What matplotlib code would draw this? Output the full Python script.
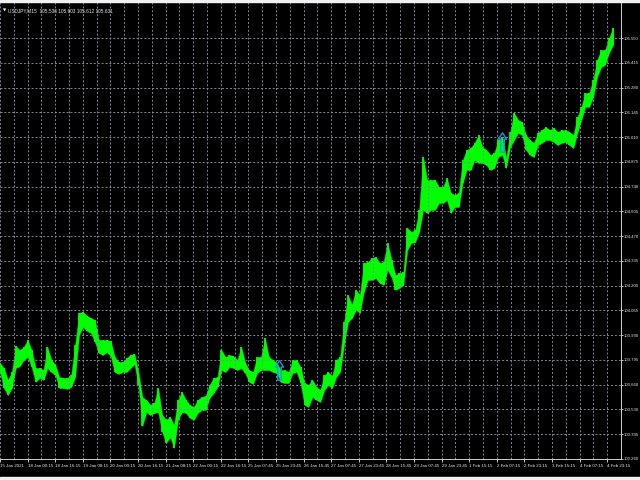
import matplotlib
matplotlib.use('Agg')
import matplotlib.pyplot as plt
import numpy as np
from matplotlib.path import Path
from matplotlib.patches import Rectangle

plt.rcParams['font.family'] = ['Liberation Sans', 'DejaVu Sans']

# USDJPY M15, sampled highs / lows (every ~9 bars)
highs = [103.784, 103.756, 103.691, 103.734, 103.876, 103.854, 103.871, 103.909, 103.854, 103.756,
         103.756, 103.745, 103.871, 103.800, 103.773, 103.707, 103.702, 103.702, 103.718, 103.882,
         104.056, 104.062, 104.040, 104.029, 104.018, 103.909, 103.909, 103.909, 103.903, 103.816,
         103.789, 103.789, 103.811, 103.827, 103.833, 103.734, 103.598, 103.582, 103.555, 103.565,
         103.647, 103.500, 103.473, 103.489, 103.445, 103.582, 103.625, 103.582, 103.555, 103.544,
         103.582, 103.598, 103.604, 103.664, 103.702, 103.707, 103.854, 103.816, 103.827, 103.822,
         103.800, 103.871, 103.784, 103.745, 103.734, 103.816, 103.816, 103.920, 103.816, 103.800,
         103.784, 103.745, 103.745, 103.734, 103.800, 103.800, 103.762, 103.674, 103.664, 103.691,
         103.653, 103.636, 103.718, 103.734, 103.713, 103.800, 103.816, 104.007, 104.154, 104.100,
         104.182, 104.154, 104.329, 104.334, 104.356, 104.362, 104.329, 104.334, 104.438, 104.345,
         104.263, 104.274, 104.280, 104.520, 104.498, 104.509, 104.618, 104.907, 104.781, 104.781,
         104.781, 104.743, 104.743, 104.792, 104.711, 104.700, 104.711, 104.890, 104.945, 104.956,
         104.983, 105.027, 104.961, 104.945, 104.918, 104.929, 104.999, 105.016, 104.901, 105.043,
         105.147, 105.109, 105.098, 105.027, 104.999, 104.983, 105.038, 105.054, 105.070, 105.054,
         105.065, 105.043, 105.054, 105.054, 105.043, 105.027, 105.125, 105.180, 105.256, 105.256,
         105.327, 105.436, 105.490, 105.490, 105.556, 105.610]
lows = [103.734, 103.647, 103.609, 103.647, 103.756, 103.767, 103.800, 103.816, 103.762, 103.680,
        103.702, 103.691, 103.756, 103.734, 103.718, 103.647, 103.647, 103.642, 103.653, 103.707,
        103.936, 103.980, 103.958, 103.947, 103.898, 103.838, 103.827, 103.843, 103.822, 103.734,
        103.724, 103.734, 103.734, 103.756, 103.778, 103.664, 103.440, 103.516, 103.500, 103.511,
        103.516, 103.407, 103.347, 103.380, 103.320, 103.473, 103.516, 103.511, 103.484, 103.473,
        103.511, 103.527, 103.527, 103.593, 103.620, 103.653, 103.745, 103.734, 103.762, 103.756,
        103.745, 103.756, 103.729, 103.680, 103.669, 103.729, 103.745, 103.745, 103.745, 103.734,
        103.729, 103.680, 103.674, 103.674, 103.729, 103.734, 103.674, 103.555, 103.544, 103.598,
        103.582, 103.571, 103.636, 103.664, 103.647, 103.707, 103.734, 103.882, 104.007, 104.029,
        104.073, 104.056, 104.171, 104.236, 104.236, 104.247, 104.220, 104.209, 104.291, 104.252,
        104.182, 104.193, 104.209, 104.400, 104.438, 104.443, 104.498, 104.618, 104.601, 104.618,
        104.618, 104.656, 104.656, 104.672, 104.601, 104.634, 104.634, 104.765, 104.836, 104.836,
        104.890, 104.874, 104.874, 104.863, 104.836, 104.847, 104.907, 104.918, 104.847, 104.961,
        104.999, 105.038, 105.027, 104.945, 104.918, 104.907, 104.972, 104.983, 104.999, 104.999,
        104.989, 104.972, 104.983, 104.989, 104.972, 104.956, 105.038, 105.109, 105.180, 105.180,
        105.234, 105.343, 105.398, 105.409, 105.474, 105.518]

time_labels = ['15 Jan 2021', '18 Jan 00:15', '18 Jan 16:15', '19 Jan 08:15', '20 Jan 00:15',
               '20 Jan 16:15', '21 Jan 08:15', '22 Jan 00:15', '22 Jan 16:15', '25 Jan 07:45',
               '25 Jan 23:45', '26 Jan 15:45', '27 Jan 07:45', '27 Jan 23:45', '28 Jan 15:45',
               '29 Jan 07:45', '29 Jan 23:45', '1 Feb 15:15', '2 Feb 07:15', '2 Feb 23:15',
               '3 Feb 15:15', '4 Feb 07:15', '4 Feb 23:15']
price_labels = ['103.260', '103.395', '103.530', '103.660', '103.795', '103.930', '104.065',
                '104.200', '104.335', '104.470', '104.605', '104.740', '104.875', '105.010',
                '105.145', '105.280', '105.415', '105.550']

# buy arrows: (bar, price)
arrow_bars = [648, 1163]
arrow_prices = [103.745, 104.989]

title = 'USDJPY,M15  105.536 105.603 105.612 105.631'

bar_step = 9.17
bars = np.arange(len(highs)) * bar_step
highs = np.array(highs)
lows = np.array(lows)

fig = plt.figure(figsize=(6.4, 4.8), dpi=100, facecolor='black')
ax = fig.add_axes([0, 21 / 480, 621 / 640, 457 / 480])
ax.set_facecolor('black')

ax.fill_between(bars, lows, highs, color='#00ff00', linewidth=0.3)
ax.vlines(bars, lows, highs, colors='#00ff00', linewidth=1.3)

arrow = Path([(0, 1), (0.42, 0.35), (0.18, 0.35), (0.18, -1), (-0.18, -1),
              (-0.18, 0.35), (-0.42, 0.35), (0, 1)],
             [Path.MOVETO] + [Path.LINETO] * 6 + [Path.CLOSEPOLY])
ax.plot(arrow_bars, arrow_prices, linestyle='none', marker=arrow, markersize=14,
        markerfacecolor='none', markeredgecolor='#1e90ff', markeredgewidth=1.0)

ax.set_xlim(0, 1424)
ax.set_ylim(103.260, 105.752)

ax.set_xticks(np.arange(len(time_labels)) * 64)
ax.set_xticklabels(time_labels, ha='left')
ax.set_xticks(np.arange(len(time_labels)) * 64 + 32, minor=True)
ax.yaxis.tick_right()
ax.set_yticks(103.260 + 0.135 * np.arange(len(price_labels)))
ax.set_yticklabels(price_labels)

ax.tick_params(axis='both', which='major', colors='#e8e8e8', labelsize=3.2,
               length=2.5, width=0.6, pad=1)
ax.tick_params(axis='y', which='major', length=1.2, pad=0.4, labelsize=3.1)
ax.tick_params(axis='x', which='minor', length=0)
ax.grid(True, which='both', color='#7f8a96', linestyle=(0, (2, 2)), linewidth=0.7)
ax.grid(False, axis='y', which='minor')

for s in ['left', 'top']:
    ax.spines[s].set_visible(False)
for s in ['right', 'bottom']:
    ax.spines[s].set_color('#d0d0d0')
    ax.spines[s].set_linewidth(0.7)

fig.text(3 / 640, 1 - 11 / 480, '\u25bc', color='white', fontsize=3, va='center',
         family=['DejaVu Sans'])
fig.text(8 / 640, 1 - 11 / 480, title, color='#e8e8e8', fontsize=3.4, va='center')

fig.add_artist(Rectangle((0, 1 - 2 / 480), 1, 2 / 480, transform=fig.transFigure,
                         color='#f0f0f0', zorder=10))
fig.add_artist(Rectangle((0, 0), 1, 3 / 480, transform=fig.transFigure,
                         color='#f0f0f0', zorder=10))

fig.savefig('out.png', dpi=100, facecolor='black')
